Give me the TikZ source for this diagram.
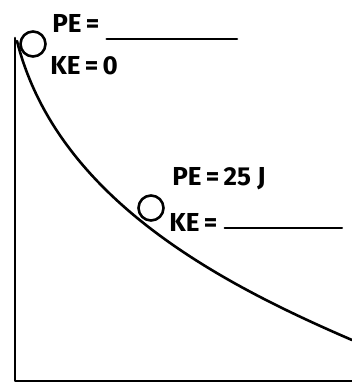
\documentclass[tikz,border=0pt]{standalone}
\usepackage{fontspec}
\setsansfont{Fira Sans}
\usetikzlibrary{calc}

\begin{document}
\begin{tikzpicture}[x=1pt,y=-1pt,line width=2.6pt,line cap=round,line join=round,
  lbl/.style={anchor=west,inner sep=0pt,font=\sffamily\bfseries\fontsize{26}{26}\selectfont}]
  % Parameters
  \def\r{12.5}     % ball radius

  \useasboundingbox (0,0) rectangle (352,387);

  % Corners of the frame
  \coordinate (T) at (15,38);   % top of wall
  \coordinate (O) at (15,381);  % corner
  \coordinate (E) at (352,381); % right end of floor

  % Wall and floor
  \draw (T) -- (O) -- (E);

  % Track
  \coordinate (S) at (17,41);   % start of track
  \coordinate (F) at (352,340); % end of track
  \draw (S) .. controls (57,199) and (222,284) .. (F);

  % Balls
  \coordinate (B1) at (33,44);
  \coordinate (B2) at (151,208);
  \draw (B1) circle (\r);
  \draw (B2) circle (\r);

  % Labels at the top
  \node[lbl] (pe1) at (51,23) {PE\,=};
  \node[lbl] (ke1) at (49,66) {KE\,=\,0};
  \coordinate (pe1end) at (237,39);
  \draw ($(pe1.east)+(6,16)$) -- (pe1end);

  % Labels halfway down
  \node[lbl] (pe2) at (171,179) {PE\,=\,25 J};
  \node[lbl] (ke2) at (168,222) {KE\,=};
  \coordinate (ke2end) at (342,228);
  \draw[line width=2pt] ($(ke2.east)+(6,6)$) -- (ke2end);
\end{tikzpicture}
\end{document}
